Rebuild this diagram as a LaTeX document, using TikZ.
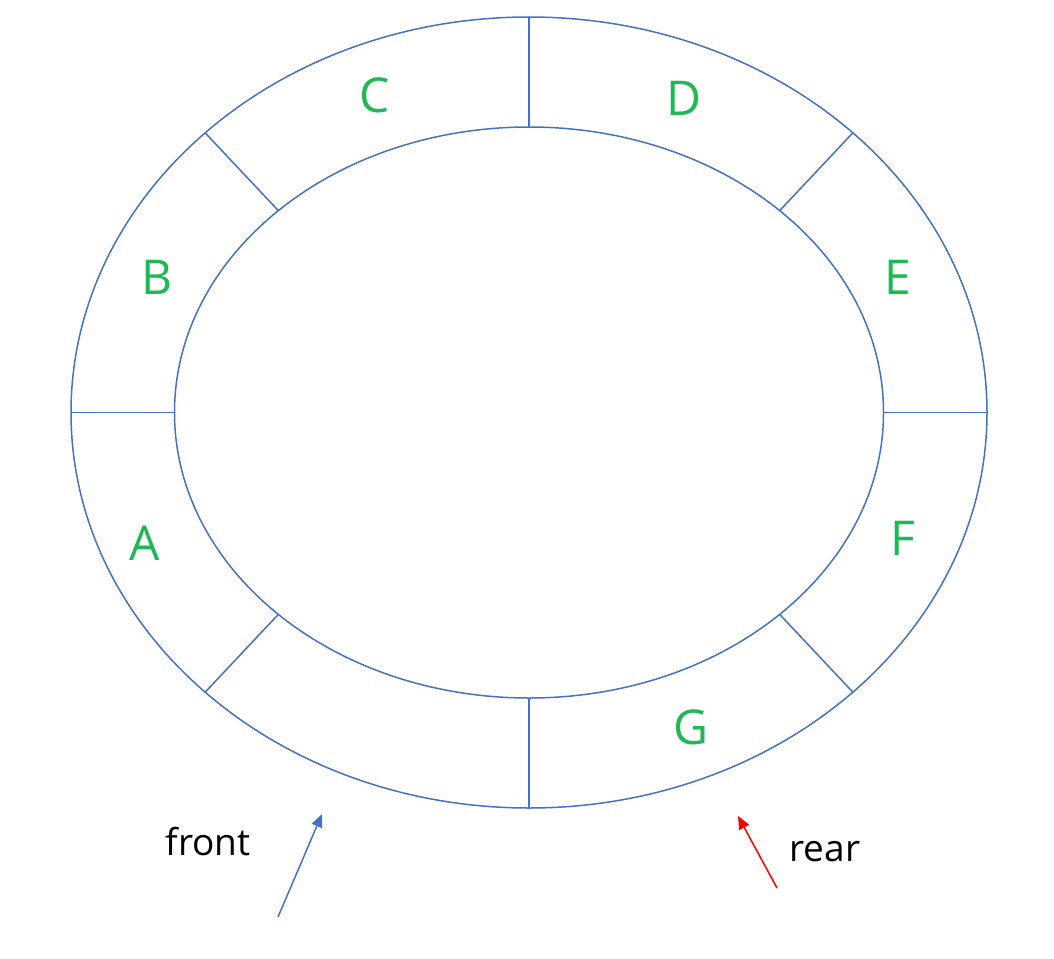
\documentclass[tikz,border=0pt]{standalone}
\usepackage{fontspec}
\setmainfont{Open Sans}
\usetikzlibrary{arrows.meta}
\definecolor{ringblue}{HTML}{4472C4}
\definecolor{lblgreen}{HTML}{1DB954}
\definecolor{rearred}{HTML}{FF0000}
\begin{document}
\begin{tikzpicture}[x=1pt,y=-1pt,
  ring/.style={draw=ringblue,line width=1.5pt},
  divider/.style={draw=ringblue,line width=1.5pt},
  slot/.style={text=lblgreen,font=\fontsize{48}{54}\selectfont,inner sep=0pt},
  ptr/.style={text=black,font=\fontsize{37}{44}\selectfont,inner sep=0pt},
  arr/.style={line width=1.5pt,-{Triangle[length=13pt,width=11pt]}}]
\useasboundingbox (0,0) rectangle (1054,958);
\coordinate (c) at (529,412.5);
\draw[ring] (c) ellipse [x radius=458pt, y radius=395.5pt];
\draw[ring] (c) ellipse [x radius=354.5pt, y radius=285.5pt];
% dividers at parametric angles
\foreach \a/\n in {0/r,45/tr,90/t,135/tl,180/l,225/bl,270/b,315/br}{
  \coordinate (o\n) at ({529+458*cos(\a)},{412.5-395.5*sin(\a)});
  \coordinate (i\n) at ({529+354.5*cos(\a)},{412.5-285.5*sin(\a)});
  \draw[divider] (i\n) -- (o\n);
}
\node[slot] (C) at (375,95) {C};
\node[slot] (D) at (684,98) {D};
\node[slot] (B) at (157,277) {B};
\node[slot] (E) at (898,277) {E};
\node[slot] (A) at (145,543) {A};
\node[slot] (F) at (903,538) {F};
\node[slot] (G) at (691,727) {G};
\node[ptr] (front) at (208,842) {front};
\node[ptr] (rear) at (825,852) {rear};
\coordinate (fs) at (278,917);
\coordinate (fe) at (322,814);
\coordinate (rs) at (777,888);
\coordinate (re) at (738,816);
\draw[arr,draw=ringblue,fill=ringblue] (fs) -- (fe);
\draw[arr,draw=rearred,fill=rearred] (rs) -- (re);
\end{tikzpicture}
\end{document}
